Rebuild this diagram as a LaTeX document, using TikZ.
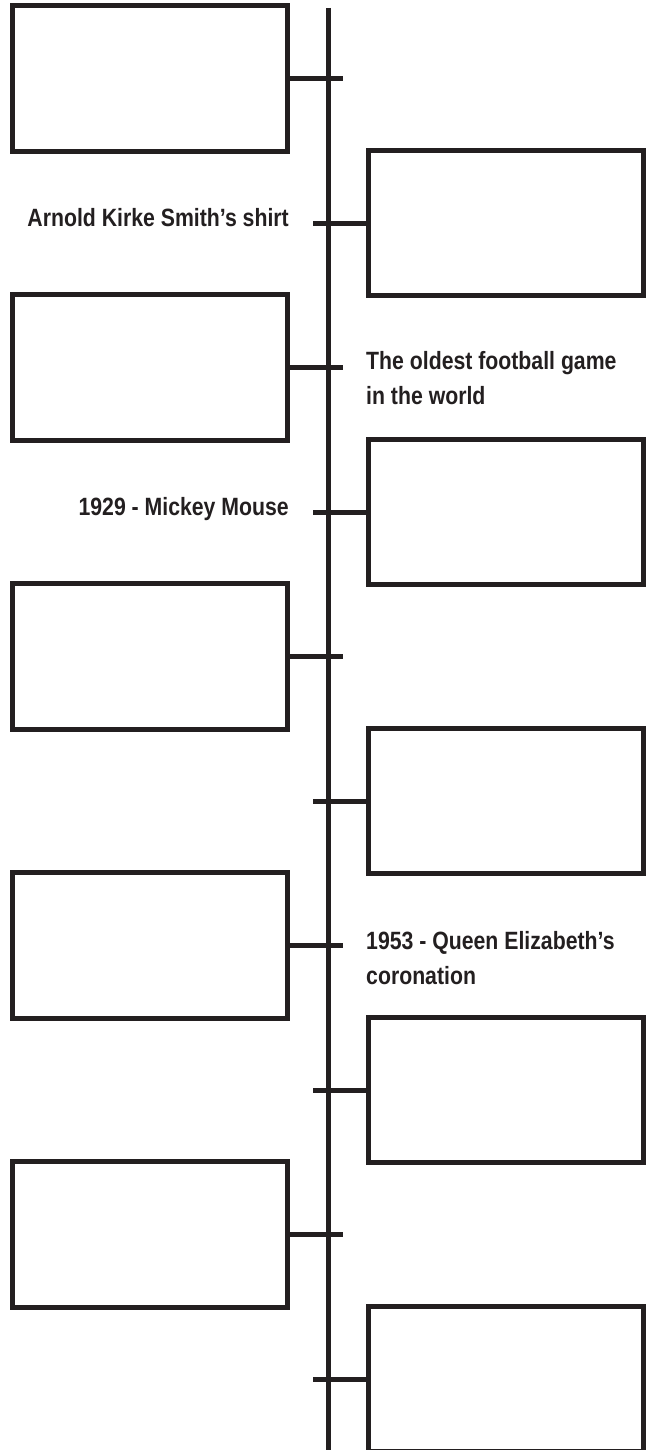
\documentclass[tikz,border=0pt]{standalone}
\usepackage{fontspec}
\setmainfont[FakeStretch=0.85]{Liberation Sans}
\definecolor{ink}{HTML}{231F20}
\begin{document}
\begin{tikzpicture}[x=1pt,y=-1pt,
  card/.style={draw=ink, line width=5pt, minimum width=274.7pt, minimum height=145.5pt, inner sep=0pt},
  lbl/.style={font=\bfseries\fontsize{25}{35}\selectfont, text=ink, inner sep=0pt},
  rulel/.style={draw=ink, line width=5pt}]
\useasboundingbox (0,0) rectangle (652,1450);
\coordinate (top) at (328,8);
\coordinate (bot) at (328,1450);
\draw[rulel] (top) -- (bot);
\foreach \k in {0,...,4} {
  \node[card] (L\k) at (150.15, {78.5+289*\k}) {};
  \coordinate (LT\k) at (343, {78.5+289*\k});
  \draw[rulel] (L\k.east) -- (LT\k);
  \node[card] (R\k) at (505.75, {223+289*\k}) {};
  \coordinate (RT\k) at (313, {223+289*\k});
  \draw[rulel] (RT\k) -- (R\k.west);
}
\node[lbl, anchor=base east] (a) at (289,226) {Arnold Kirke Smith’s shirt};
\node[lbl, anchor=base east] (m) at (289,515) {1929 - Mickey Mouse};
\node[lbl, anchor=north west, align=left] (f) at (366,351) {The oldest football game\\in the world};
\node[lbl, anchor=north west, align=left] (q) at (366,931) {1953 - Queen Elizabeth’s\\coronation};
\end{tikzpicture}
\end{document}
